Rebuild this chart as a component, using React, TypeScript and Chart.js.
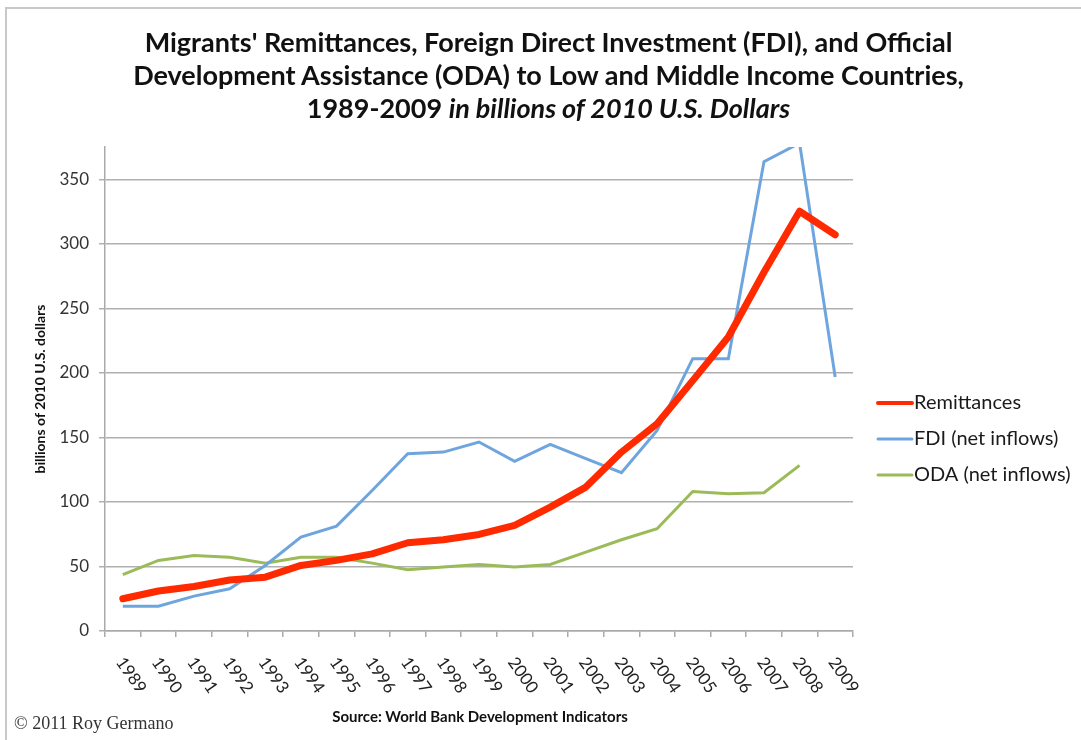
import React, { useEffect, useRef } from "react";
import { Chart, registerables } from "chart.js";

Chart.register(...registerables);

const years = ["1989","1990","1991","1992","1993","1994","1995","1996","1997","1998","1999","2000","2001","2002","2003","2004","2005","2006","2007","2008","2009"];
const remittances = [25, 31, 34.5, 39.5, 41.7, 50.8, 54.7, 59.8, 68.4, 70.7, 74.8, 81.8, 96, 111.5, 138.6, 160.6, 194, 227.8, 278, 325.2, 307];
const fdi = [19.2, 19.2, 27, 32.7, 50.8, 72.7, 81.3, 108.9, 137.4, 138.6, 146.4, 131.4, 144.6, 133.5, 122.6, 155.4, 211, 211, 363.6, 378, 196.8];
const oda = [43.6, 54.7, 58.5, 57.2, 52.6, 57.2, 57.2, 52.6, 47.4, 49.5, 51.6, 49.5, 51.6, 61.1, 70.7, 79.2, 108.1, 106.4, 107.2, 128.3, null];
const seriesLabels = ["Remittances", "FDI (net inflows)", "ODA (net inflows)"];
const seriesColors = ["#ff2a00", "#6fa5de", "#9bbb59"];
const seriesWidths = [7, 3, 3];
const yTickValues = [0, 50, 100, 150, 200, 250, 300, 350];

const FONT = "Lato, 'Open Sans', sans-serif";

const customPlugin = {
  id: "customDraw",
  afterDraw(chart: any) {
    const ctx = chart.ctx;
    const xs = chart.scales.x;
    ctx.save();
    ctx.fillStyle = "#222";
    ctx.font = `17px ${FONT}`;
    ctx.textAlign = "left";
    ctx.textBaseline = "middle";
    years.forEach((lab, i) => {
      const x = xs.getPixelForValue(i);
      ctx.save();
      ctx.translate(x - 3, 659);
      ctx.rotate((55 * Math.PI) / 180);
      ctx.fillText(lab, 0, 0);
      ctx.restore();
    });
    const lx0 = 878, lx1 = 912;
    chart.data.datasets.forEach((ds: any, i: number) => {
      const y = 403 + i * 36;
      ctx.strokeStyle = ds.borderColor;
      ctx.lineWidth = i === 0 ? 4 : 3;
      ctx.lineCap = "round";
      ctx.beginPath();
      ctx.moveTo(lx0, y);
      ctx.lineTo(lx1, y);
      ctx.stroke();
      ctx.fillStyle = "#1a1a1a";
      ctx.font = `20px ${FONT}`;
      ctx.textAlign = "left";
      ctx.textBaseline = "middle";
      ctx.fillText(ds.label, lx1 + 2, y);
    });
    ctx.restore();
  },
};

export default function App() {
  const ref = useRef<HTMLCanvasElement>(null);
  useEffect(() => {
    if (!ref.current) return;
    const chart = new Chart(ref.current, {
      type: "line",
      data: {
        labels: years,
        datasets: [
          { label: seriesLabels[0], data: remittances, borderColor: seriesColors[0], backgroundColor: seriesColors[0], borderWidth: seriesWidths[0], pointRadius: 0, borderCapStyle: "round", borderJoinStyle: "round", order: 0 },
          { label: seriesLabels[1], data: fdi, borderColor: seriesColors[1], backgroundColor: seriesColors[1], borderWidth: seriesWidths[1], pointRadius: 0, order: 1 },
          { label: seriesLabels[2], data: oda, borderColor: seriesColors[2], backgroundColor: seriesColors[2], borderWidth: seriesWidths[2], pointRadius: 0, order: 2 },
        ] as any,
      },
      options: {
        animation: false,
        responsive: false,
        maintainAspectRatio: false,
        layout: { padding: { left: 24, right: 228, top: 147, bottom: 0 } },
        plugins: { legend: { display: false }, title: { display: false }, tooltip: { enabled: false } },
        scales: {
          x: {
            type: "category",
            offset: true,
            grid: { offset: true, drawOnChartArea: false, drawTicks: true, tickLength: 6, color: "#aaaaaa", lineWidth: 1.5 },
            border: { display: true, color: "#aaaaaa", width: 1.5 },
            ticks: { display: false },
            afterFit: (s: any) => { s.height = 109; },
          },
          y: {
            min: 0,
            max: 375,
            grid: { color: "#b0b0b0", lineWidth: 1.5, tickLength: 6, drawTicks: true },
            border: { display: true, color: "#aaaaaa", width: 1.5 },
            afterBuildTicks: (s: any) => { s.ticks = yTickValues.map((v) => ({ value: v })); },
            ticks: { color: "#333", font: { family: FONT, size: 17 }, padding: 10 },
            title: { display: true, text: "billions of 2010 U.S. dollars", color: "#111", font: { family: FONT, size: 14, weight: "bold" }, padding: { top: 8, bottom: 0 } },
            afterFit: (s: any) => { s.width = 81; },
          },
        },
      },
      plugins: [customPlugin],
    });
    return () => chart.destroy();
  }, []);

  const titleStyle: React.CSSProperties = {
    position: "absolute", left: 0, width: 1097, textAlign: "center",
    fontFamily: FONT, fontWeight: "bold", fontSize: 27, color: "#111", lineHeight: "33px", whiteSpace: "nowrap",
  };
  return (
    <div style={{ position: "absolute", left: 0, top: 0, width: 1081, height: 740, background: "#fff", overflow: "hidden" }}>
      <div style={{ position: "absolute", left: 5, top: 7, width: 1200, height: 800, borderLeft: "2px solid #c8c8c8", borderTop: "2px solid #c8c8c8" }} />
      <canvas ref={ref} width={1081} height={740} style={{ position: "absolute", left: 0, top: 0 }} />
      <div style={{ ...titleStyle, top: 25 }}>
        <div>Migrants' Remittances, Foreign Direct Investment (FDI), and Official</div>
        <div>Development Assistance (ODA) to Low and Middle Income Countries,</div>
        <div>1989-2009 <i>in billions of 2010 U.S. Dollars</i></div>
      </div>
      <div style={{ position: "absolute", left: 280, width: 400, top: 707, textAlign: "center", fontFamily: FONT, fontWeight: "bold", fontSize: 15, color: "#111" }}>
        Source: World Bank Development Indicators
      </div>
      <div style={{ position: "absolute", left: 14, top: 713, fontFamily: "'Liberation Serif', 'DejaVu Serif', serif", fontSize: 18, color: "#333" }}>
        © 2011 Roy Germano
      </div>
    </div>
  );
}
